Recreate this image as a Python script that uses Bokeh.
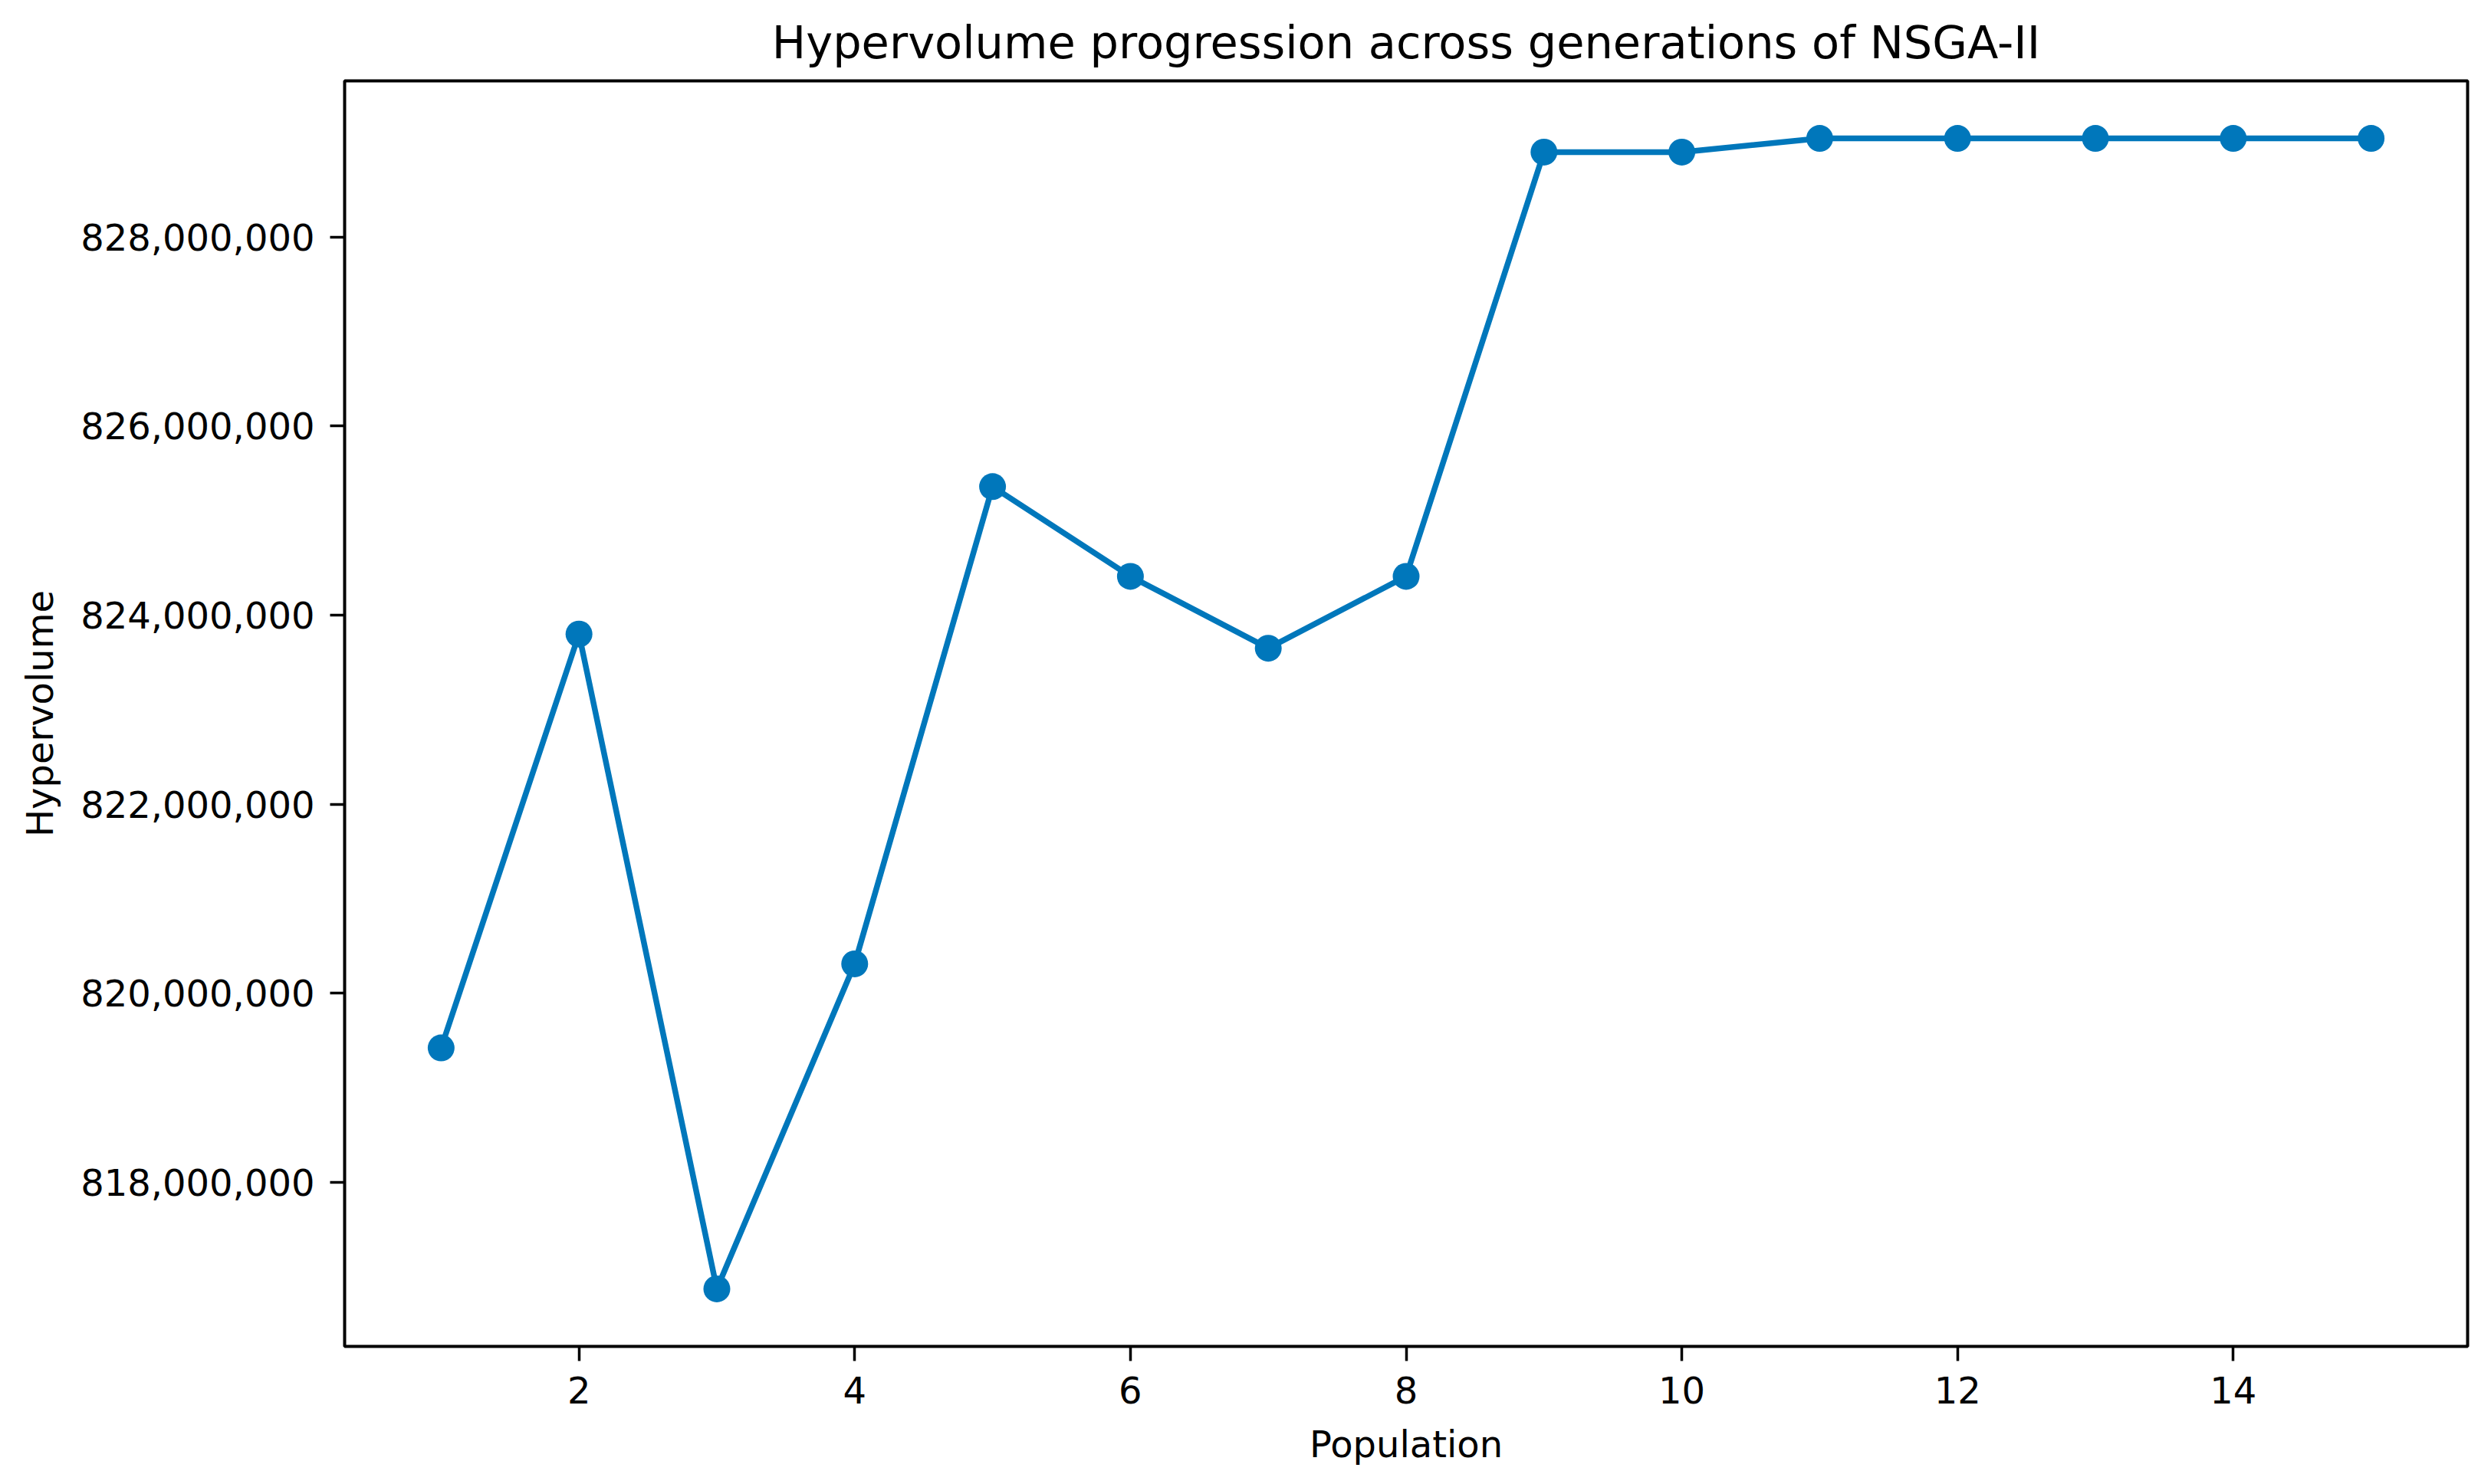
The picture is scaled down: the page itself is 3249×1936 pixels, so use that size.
from bokeh.plotting import figure
from bokeh.models import Range1d, SingleIntervalTicker, NumeralTickFormatter
from bokeh.embed import file_html
from bokeh.resources import INLINE

# Data
population = [1, 2, 3, 4, 5, 6, 7, 8, 9, 10, 11, 12, 13, 14, 15]
hypervolume = [
    819_420_000, 823_800_000, 816_870_000, 820_310_000, 825_360_000,
    824_410_000, 823_650_000, 824_410_000, 828_900_000, 828_900_000,
    829_045_000, 829_045_000, 829_045_000, 829_045_000, 829_045_000,
]

TITLE = "Hypervolume progression across generations of NSGA-II"
X_LABEL = "Population"
Y_LABEL = "Hypervolume"

COLOR = "#0077BB"
FONT = "DejaVu Sans"

# matplotlib-style 5% margins
xmin, xmax = min(population), max(population)
ymin, ymax = min(hypervolume), max(hypervolume)
xpad = 0.05 * (xmax - xmin)
ypad = 0.05 * (ymax - ymin)

p = figure(
    width=3233, height=1920,
    output_backend="svg", toolbar_location=None,
    x_range=Range1d(xmin - xpad, xmax + xpad),
    y_range=Range1d(ymin - ypad, ymax + ypad),
    title=TITLE,
    min_border_left=449, min_border_right=15,
    min_border_top=105, min_border_bottom=164,
)

p.line(population, hypervolume, line_color=COLOR, line_width=7.5)
p.scatter(population, hypervolume, size=35, fill_color=COLOR, line_color=COLOR, line_width=0)

# Title
p.title.text_font = FONT
p.title.text_font_size = "59px"
p.title.text_font_style = "normal"
p.title.text_color = "#000000"
p.title.align = "center"
p.title.standoff = 31

# Grid off, frame box
p.xgrid.visible = False
p.ygrid.visible = False
p.outline_line_color = "#000000"
p.outline_line_width = 4
p.outline_line_alpha = 1.0
p.background_fill_color = "white"
p.border_fill_color = "white"

# Axes
p.xaxis.ticker = SingleIntervalTicker(interval=2)
p.yaxis.ticker = SingleIntervalTicker(interval=2_000_000)
p.yaxis.formatter = NumeralTickFormatter(format="0,0")
p.xaxis.axis_label = X_LABEL
p.yaxis.axis_label = Y_LABEL

for ax in (p.xaxis, p.yaxis):
    ax.axis_line_color = None
    ax.major_tick_line_color = "#000000"
    ax.major_tick_line_width = 3.5
    ax.major_tick_out = 19
    ax.major_tick_in = 0
    ax.minor_tick_line_color = None
    ax.major_label_text_font = FONT
    ax.major_label_text_font_size = "48px"
    ax.major_label_text_color = "#000000"
    ax.axis_label_text_font = FONT
    ax.axis_label_text_font_size = "48px"
    ax.axis_label_text_font_style = "normal"
    ax.axis_label_text_color = "#000000"

p.yaxis.major_label_standoff = 20
p.yaxis.axis_label_standoff = 22
p.xaxis.major_label_standoff = 20
p.xaxis.axis_label_standoff = 22

open("out.html", "w").write(file_html(p, INLINE))
